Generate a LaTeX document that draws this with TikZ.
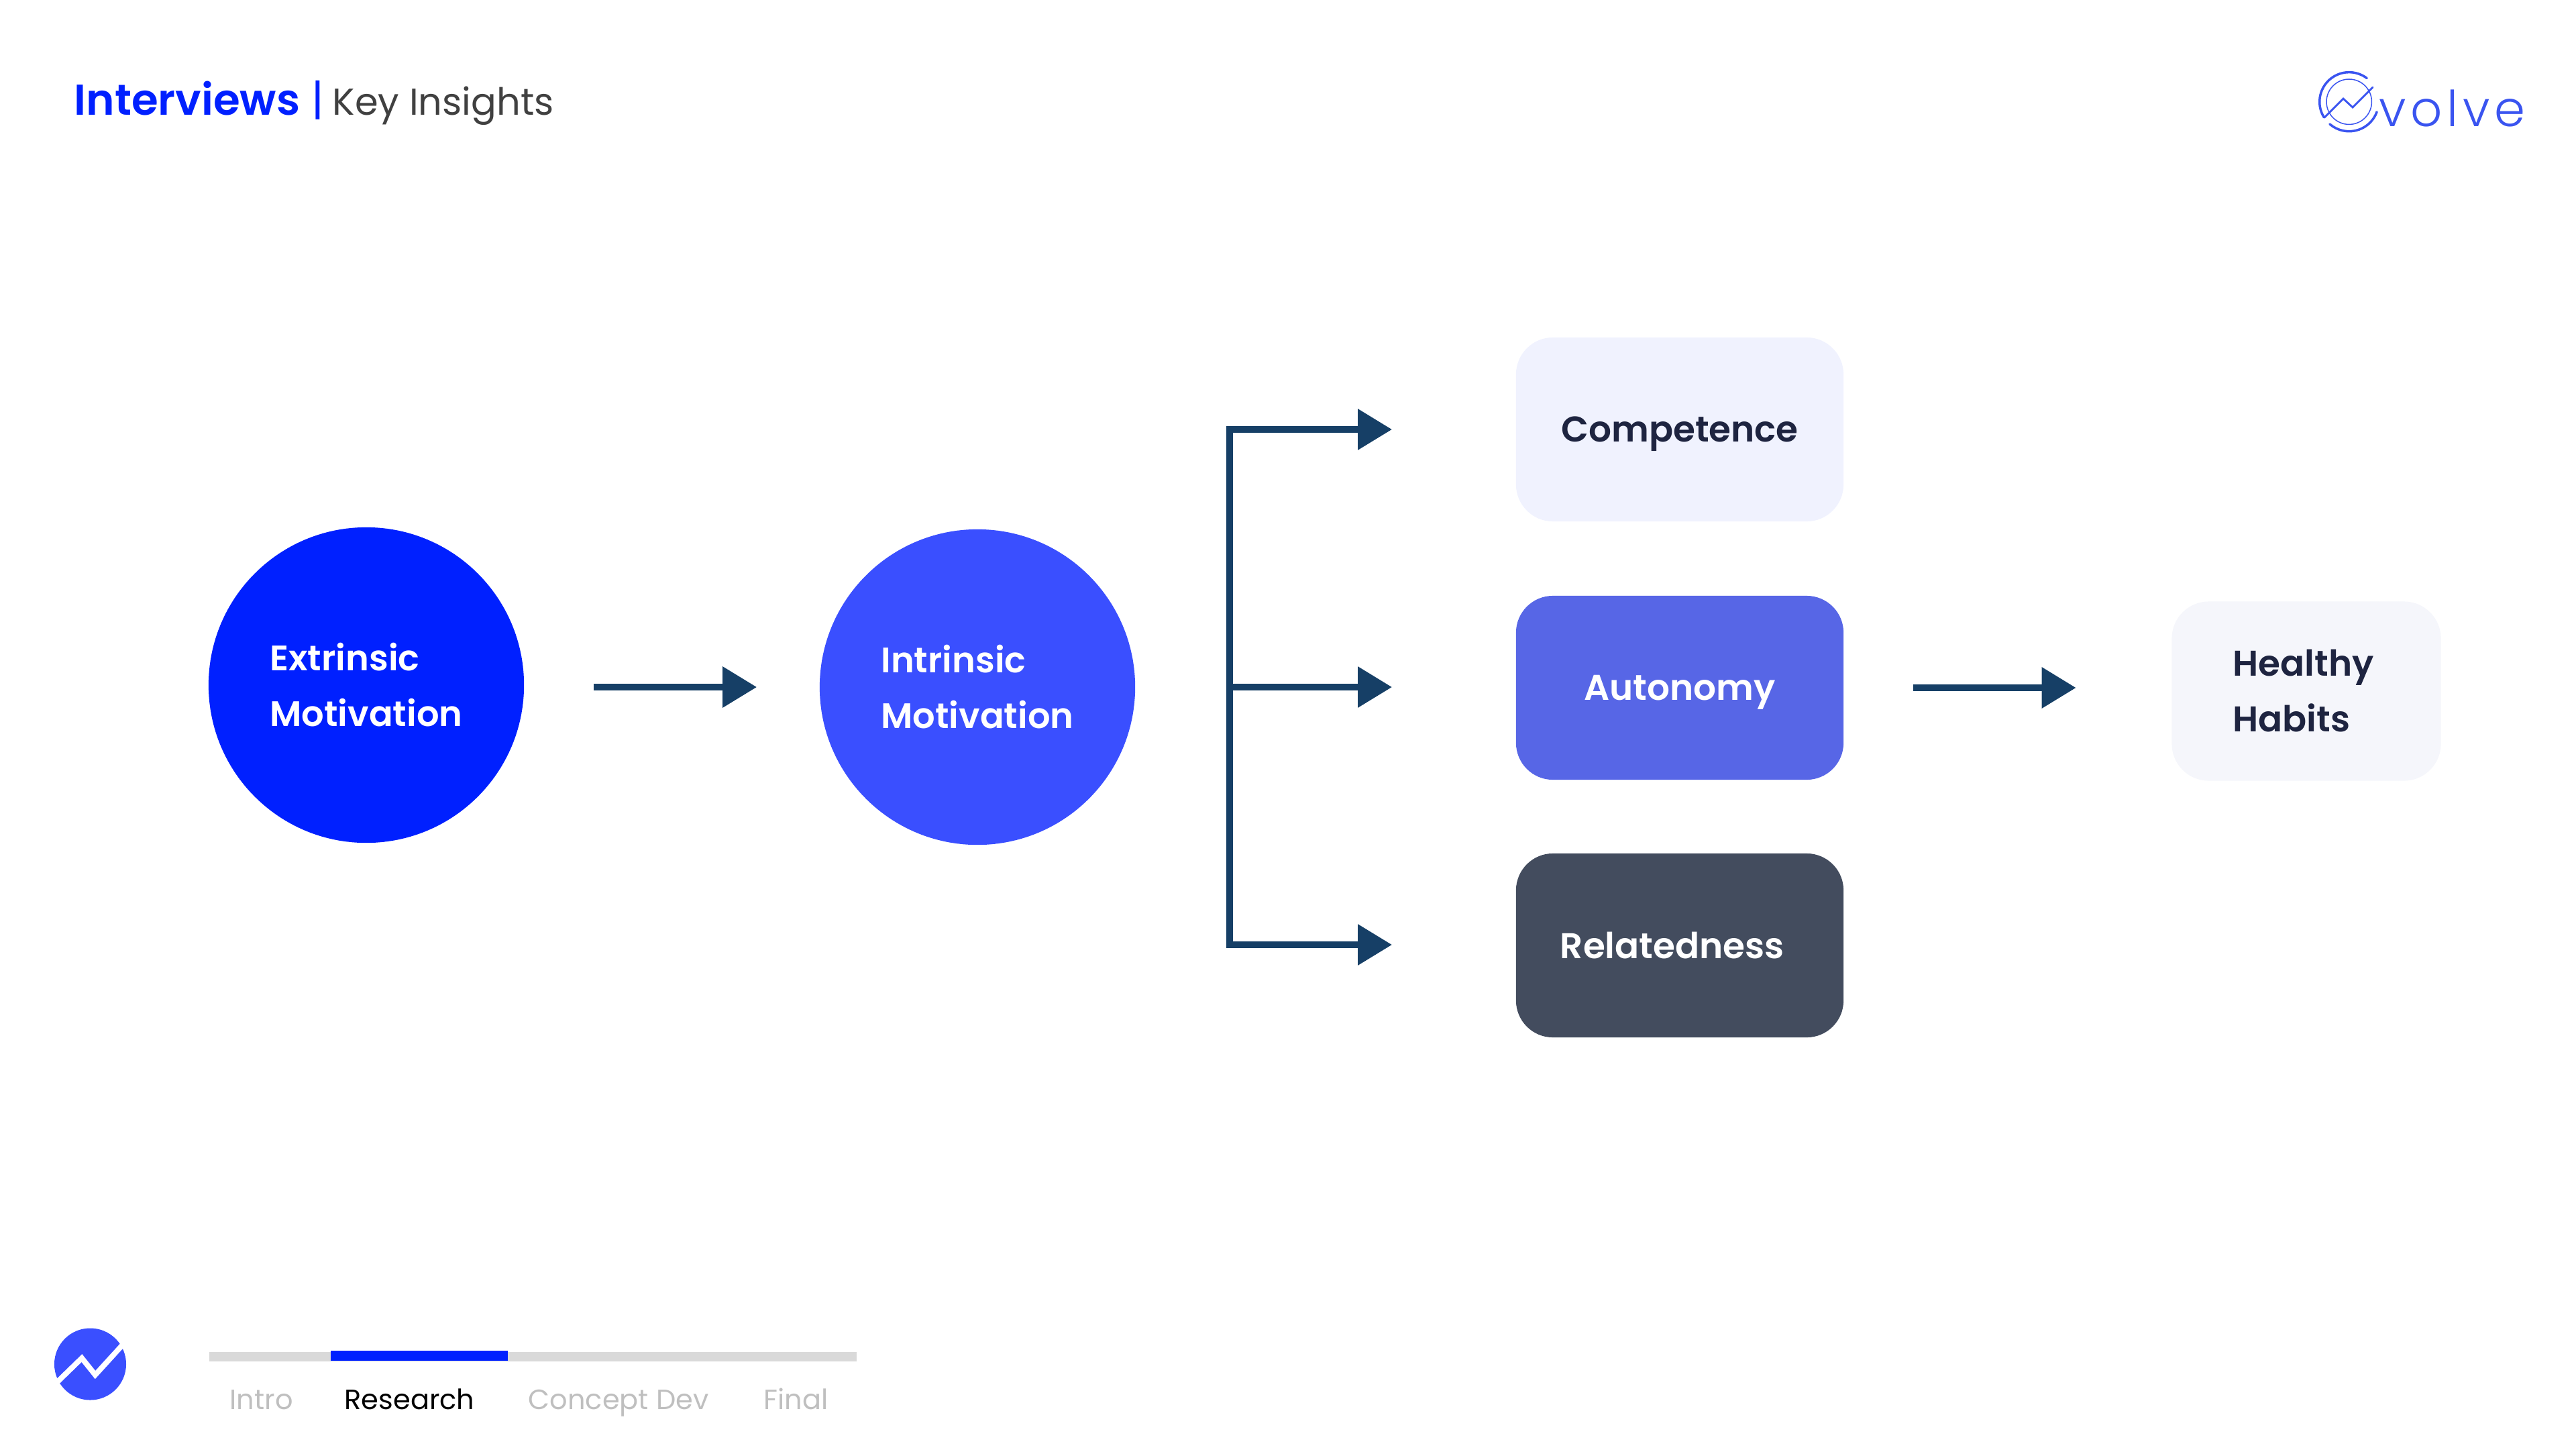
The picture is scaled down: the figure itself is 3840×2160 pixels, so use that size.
\documentclass[tikz,border=0pt]{standalone}
\usepackage{fontspec}
\usepackage{xcolor}
\usetikzlibrary{arrows.meta}
\setmainfont{Poppins}
\newfontfamily\popsemi{Poppins SemiBold}
\newfontfamily\poplogo[LetterSpace=9]{Poppins Light}
\definecolor{deepblue}{HTML}{0020FF}
\definecolor{midblue}{HTML}{3A4FFF}
\definecolor{softblue}{HTML}{5766E6}
\definecolor{slatebox}{HTML}{434C5E}
\definecolor{paleblue}{HTML}{F0F2FE}
\definecolor{palegrey}{HTML}{F5F6FB}
\definecolor{flowline}{HTML}{163F66}
\definecolor{inktext}{HTML}{1E2440}
\definecolor{logoblue}{HTML}{3A54F0}
\begin{document}
\begin{tikzpicture}[
            x = 0.01cm, y = -0.01cm, % one unit is one pixel of the slide
            > = {Triangle[length=0.51cm,width=0.59cm]}, % arrow head style
            flow/.style = {draw=flowline, line width=0.1cm},
            bignode/.style = {shape=circle, fill=#1, text=white, minimum size=4.7cm, inner sep=0pt, align=left,
                font=\popsemi\fontsize{15}{23.6}\selectfont},
            boxnode/.style = {shape=rectangle, rounded corners=0.55cm, fill=#1, minimum width=4.88cm, minimum height=2.74cm,
                inner sep=0pt, text width=3.7cm, text depth=0pt, align=center, font=\popsemi\fontsize{15.15}{23.6}\selectfont},
            steplabel/.style = {anchor=base west, inner sep=0pt, text=#1, font=\fontsize{11.8}{15}\selectfont},
            logoline/.style = {draw=logoblue, line cap=round, line width=#1}
        ]
\useasboundingbox (0,0) rectangle (3840,2160);

% title
\node[anchor=base west, inner sep=0pt] (title) at (110,171) {\fontsize{18.3}{22}\selectfont\textcolor{deepblue}{\popsemi Interviews} \textcolor{deepblue}{|}\kern-1.4pt{} \textcolor[HTML]{404040}{\fontsize{15.9}{22}\selectfont Key Insights}};

% logo top right
\coordinate (C) at (3501.7,151.7);
\node[shape=circle, draw=logoblue, line width=0.015cm, minimum size=0.674cm, inner sep=0pt] (ring) at (C) {};
\draw[logoline=0.035cm] ([shift={(212:0.44cm)}]C) arc[start angle=212, end angle=53, radius=0.44cm];
\draw[logoline=0.035cm] ([shift={(229:0.44cm)}]C) arc[start angle=229, end angle=340, radius=0.44cm];
\draw[logoline=0.028cm] (3465,175) -- (3493,147) -- (3507,160) -- (3537,130);
\node[anchor=base west, inner sep=0pt, text=logoblue, font=\poplogo\fontsize{21}{24}\selectfont] (word) at (3546,188) {volve};

% main flow
\node[bignode=deepblue] (EM) at (546,1021) {Extrinsic\\Motivation};
\node[bignode=midblue] (IM) at (1457,1024) {Intrinsic\\Motivation};
\node[boxnode=paleblue, text=inktext] (CO) at (2504,640) {Competence};
\node[boxnode=softblue, text=white] (AU) at (2504,1025) {Autonomy};
\node[boxnode=slatebox, text=white, text width=3.56cm, align=left] (RE) at (2504,1409) {Relatedness};
\node[boxnode=palegrey, text=inktext, minimum width=4.01cm, minimum height=2.67cm, text width=2.19cm, text depth=, align=left] (HH) at (3438,1030) {Healthy\\Habits};

% free ends of the bracket
\coordinate (T1) at (1833,640);
\coordinate (T2) at (1833,1024);
\coordinate (T3) at (1833,1408);
\coordinate (H1) at (2075,640);
\coordinate (H2) at (2075,1024);
\coordinate (H3) at (2075,1408);

\draw [->,flow] ([xshift=1.03cm]EM.east |- IM.west) -- ([xshift=-0.93cm]IM.west);
\draw [flow] (T3) -- (T1);
\draw [->,flow,line cap=rect] (T1) -- (H1);
\draw [->,flow] (T2) -- (H2);
\draw [->,flow,line cap=rect] (T3) -- (H3);
\draw [->,flow] ([xshift=1.03cm]AU.east) -- ([xshift=-1.42cm]HH.west |- AU.east);

% progress bar
\node[shape=rectangle, fill=black!15, minimum width=9.65cm, minimum height=0.14cm, inner sep=0pt] (track) at (794.5,2022) {};
\node[shape=rectangle, fill=deepblue, minimum width=2.64cm, minimum height=0.15cm, inner sep=0pt] (now) at (625,2020.5) {};
\node[steplabel=black!25] (S1) at (342,2100) {Intro};
\node[steplabel=black] (S2) at (513,2100) {Research};
\node[steplabel=black!25] (S3) at (787,2100) {Concept Dev};
\node[steplabel=black!25] (S4) at (1138,2100) {Final};

% round badge
\node[shape=circle, fill=midblue, minimum size=1.07cm, inner sep=0pt] (badge) at (134.5,2033) {};
\draw[draw=white, line width=0.08cm] (85,2060) -- (122,2024) -- (142,2049) -- (183,2004);
\end{tikzpicture}
\end{document}
